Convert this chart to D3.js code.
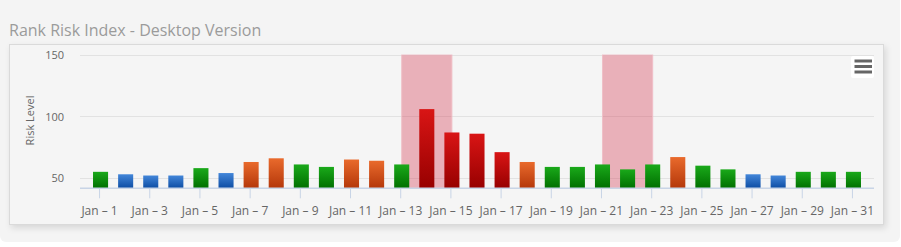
<!DOCTYPE html>
<html>
<head>
<meta charset="utf-8">
<script src="https://cdn.jsdelivr.net/npm/d3@7"></script>
<style>
  html, body { margin: 0; padding: 0; background: #fff; }
  svg { display: block; font-family: "Open Sans", sans-serif; }
</style>
</head>
<body>
<div id="chart"></div>
<script>
// days of january
var days = d3.range(1, 32);
var riskValues = [55, 53, 52, 52, 58, 54, 63, 66, 61, 59, 65, 64, 61, 106, 87, 86,
                  71, 63, 59, 59, 61, 57, 61, 67, 60, 57, 53, 52, 55, 55, 55];
var riskLevels = ['green', 'blue', 'blue', 'blue', 'green', 'blue', 'orange', 'orange',
                  'green', 'green', 'orange', 'orange', 'green', 'red', 'red', 'red',
                  'red', 'orange', 'green', 'green', 'green', 'green', 'green', 'orange',
                  'green', 'green', 'blue', 'blue', 'green', 'green', 'green'];
var bandRanges = [[13, 15], [21, 23]];
var yTicks = [50, 100, 150];
var xTicks = days.filter(function(d){ return d % 2 === 1; });

var levelColors = {
	green:  ['#1aa91a', '#006f00'],
	blue:   ['#4386d9', '#0c4ca3'],
	orange: ['#e96a2c', '#b4370a'],
	red:    ['#d91515', '#970000']
};

var W = 901, H = 247;
var plotLeft = 80, plotRight = 874, plotTop = 55, plotBottom = 188.3;

var svg = d3.select('#chart').append('svg')
	.attr('width', W)
	.attr('height', H);

var defs = svg.append('defs');
Object.keys(levelColors).forEach(function(k){
	var g = defs.append('linearGradient')
		.attr('id', 'grad-' + k)
		.attr('x1', 0).attr('y1', 0).attr('x2', 0).attr('y2', 1);
	g.append('stop').attr('offset', '0%').attr('stop-color', levelColors[k][0]);
	g.append('stop').attr('offset', '100%').attr('stop-color', levelColors[k][1]);
});
var shadow = defs.append('filter').attr('id', 'shadow')
	.attr('x', '-5%').attr('y', '-10%').attr('width', '110%').attr('height', '125%');
shadow.append('feDropShadow')
	.attr('dx', 2).attr('dy', 3).attr('stdDeviation', 3)
	.attr('flood-color', '#000').attr('flood-opacity', 0.12);

// page panel
svg.append('rect')
	.attr('x', 0).attr('y', -6).attr('width', 900).attr('height', 248)
	.attr('rx', 6)
	.style('fill', '#f4f4f4');

svg.append('text')
	.attr('x', 9).attr('y', 36)
	.style('font-size', '16px')
	.style('fill', '#9b9b9b')
	.text('Rank Risk Index - Desktop Version');

// chart box
svg.append('rect')
	.attr('x', 9.5).attr('y', 44.5).attr('width', 874).attr('height', 180)
	.style('fill', '#f5f5f5')
	.style('stroke', '#dadada')
	.style('filter', 'url(#shadow)');

var x = d3.scaleBand()
	.domain(days)
	.range([88, 866])
	.paddingInner(0.4)
	.paddingOuter(0.2);

var y = d3.scaleLinear()
	.domain([41.6, 150])
	.range([plotBottom, plotTop]);

function cx(d){ return x(d) + x.bandwidth() / 2; }

// grid lines
svg.append('g').selectAll('line.horizontal')
	.data(yTicks)
	.enter().append('line')
		.attr('x1', plotLeft)
		.attr('x2', plotRight)
		.attr('y1', function(d){ return Math.round(y(d)) + 0.5; })
		.attr('y2', function(d){ return Math.round(y(d)) + 0.5; })
		.style('stroke', '#e2e2e2')
		.style('stroke-width', 1);

// plot bands
svg.append('g').selectAll('rect')
	.data(bandRanges)
	.enter().append('rect')
		.attr('x', function(d){ return cx(d[0]); })
		.attr('width', function(d){ return cx(d[1]) - cx(d[0]); })
		.attr('y', plotTop)
		.attr('height', plotBottom - plotTop)
		.style('fill', 'rgba(213,50,75,0.35)')
		.style('stroke', 'rgba(240,190,198,0.9)')
		.style('stroke-width', 1);

// bars
svg.append('g').selectAll('rect')
	.data(days)
	.enter().append('rect')
		.attr('x', function(d){ return x(d); })
		.attr('width', x.bandwidth())
		.attr('y', function(d, i){ return y(riskValues[i]); })
		.attr('height', function(d, i){ return y.range()[0] - y(riskValues[i]); })
		.style('fill', function(d, i){ return 'url(#grad-' + riskLevels[i] + ')'; });

// x axis
var xAxis = d3.axisBottom(x)
	.tickValues(xTicks)
	.tickSizeInner(10)
	.tickSizeOuter(0)
	.tickPadding(8)
	.tickFormat(function(d){ return 'Jan \u2013 ' + d; });

var gx = svg.append('g')
	.attr('transform', 'translate(-1,' + plotBottom + ')')
	.call(xAxis);
gx.select('.domain').remove();
gx.selectAll('.tick line').style('stroke', '#c8d4e6');
gx.selectAll('.tick text')
	.style('font-family', '"Open Sans", sans-serif')
	.style('font-size', '12px')
	.style('fill', '#666');

svg.append('line')
	.attr('x1', plotLeft).attr('x2', plotRight)
	.attr('y1', plotBottom).attr('y2', plotBottom)
	.style('stroke', '#c8d4e6')
	.style('stroke-width', 1.5);

// y axis labels
var gy = svg.append('g')
	.attr('transform', 'translate(72,0)')
	.call(d3.axisLeft(y).tickValues(yTicks).tickSize(0).tickPadding(8));
gy.select('.domain').remove();
gy.selectAll('.tick text')
	.style('font-family', '"Open Sans", sans-serif')
	.style('font-size', '11px')
	.style('fill', '#666');

svg.append('text')
	.attr('transform', 'translate(34,120.5) rotate(-90)')
	.attr('text-anchor', 'middle')
	.style('font-size', '11px')
	.style('fill', '#666')
	.text('Risk Level');

// export menu button
var btn = svg.append('g').attr('transform', 'translate(851,56)');
btn.append('rect')
	.attr('width', 23).attr('height', 22).attr('rx', 2)
	.style('fill', '#fff');
btn.selectAll('line')
	.data([5, 10.5, 16])
	.enter().append('line')
		.attr('x1', 3.5).attr('x2', 21)
		.attr('y1', function(d){ return d; })
		.attr('y2', function(d){ return d; })
		.style('stroke', '#666')
		.style('stroke-width', 3);
</script>
</body>
</html>
